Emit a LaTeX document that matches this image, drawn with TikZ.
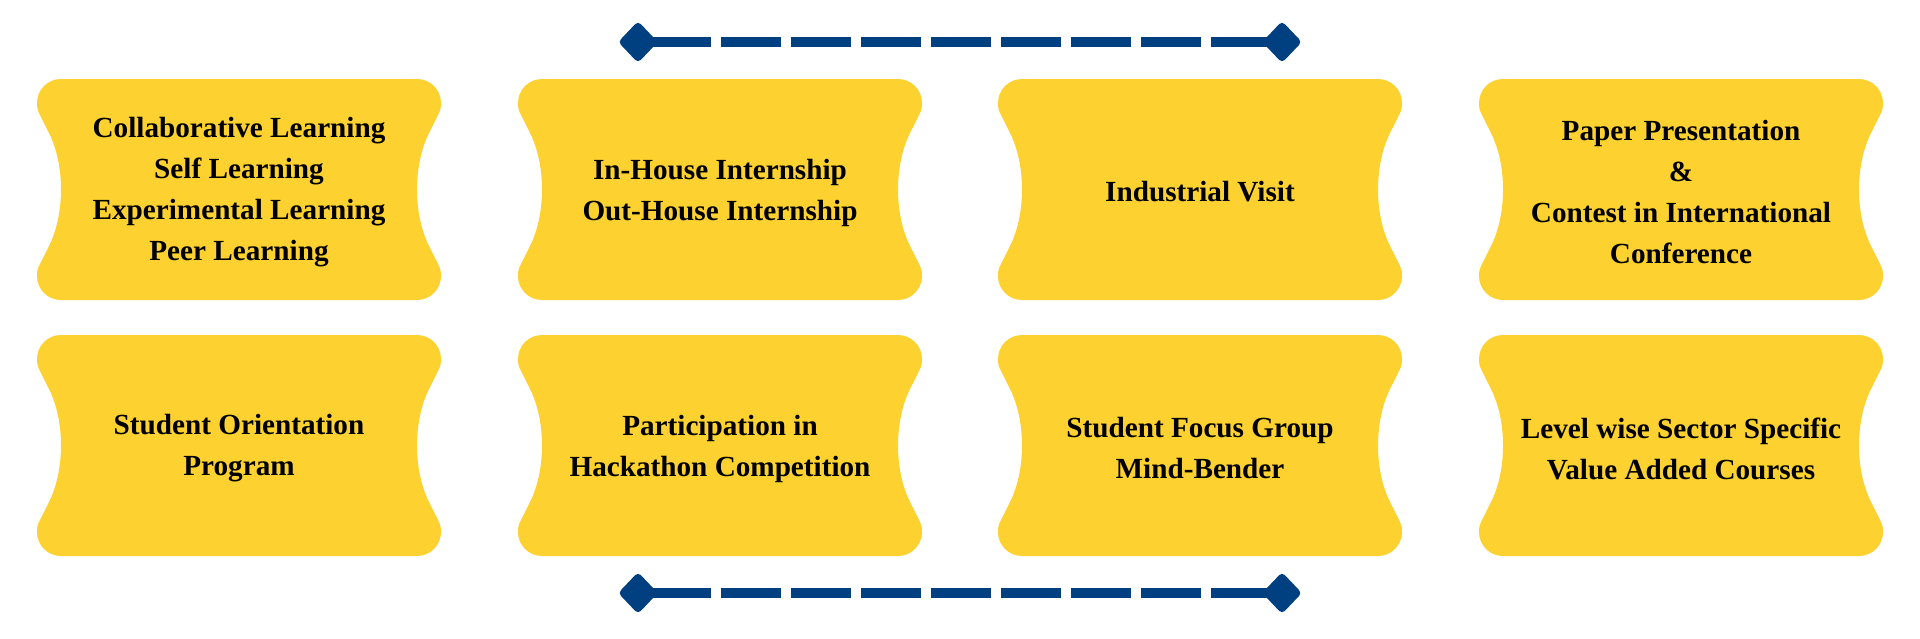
\documentclass[tikz,border=0pt]{standalone}
\usepackage{fontspec}
\setmainfont{Liberation Serif}
\usetikzlibrary{shapes.geometric}
\definecolor{cardyellow}{RGB}{253,209,48}
\definecolor{linkblue}{RGB}{0,64,128}
\tikzset{
  cardfill/.style={fill=cardyellow},
  cardtext/.style={align=center,font=\bfseries\fontsize{14.6}{20.5}\selectfont,text=black,inner sep=0pt},
  endmark/.style={diamond,fill=linkblue,minimum width=20pt,minimum height=21pt,inner sep=0pt,rounded corners=2pt},
  linkline/.style={draw=linkblue,line width=4.65pt,dash pattern=on 30pt off 5pt,dash phase=28.35pt}
}
\newcommand{\cardshape}[2]{%
  \fill[cardfill,shift={(#1,#2)}]
    (24,0) -- (380,0) .. controls (393.3,0) and (404,10.7) .. (404,24)
    .. controls (404,30) and (403,32) .. (401,36)
    -- (392,54) .. controls (376,86) and (376,135) .. (392,167) -- (401,185)
    .. controls (403,189) and (404,191) .. (404,197)
    .. controls (404,210.3) and (393.3,221) .. (380,221) -- (24,221)
    .. controls (10.7,221) and (0,210.3) .. (0,197)
    .. controls (0,191) and (1,189) .. (3,185) -- (12,167)
    .. controls (28,135) and (28,86) .. (12,54) -- (3,36)
    .. controls (1,32) and (0,30) .. (0,24)
    .. controls (0,10.7) and (10.7,0) .. (24,0) -- cycle;}
\begin{document}
\begin{tikzpicture}[x=0.5pt,y=-0.5pt]
\useasboundingbox (0,0) rectangle (1920,638);
% cards
\cardshape{37}{79}
\cardshape{518}{79}
\cardshape{998}{79}
\cardshape{1479}{79}
\cardshape{37}{335}
\cardshape{518}{335}
\cardshape{998}{335}
\cardshape{1479}{335}
\node[cardtext] (c1) at (239,192.5) {Collaborative Learning\\Self Learning\\Experimental Learning\\Peer Learning};
\node[cardtext] (c2) at (720,192.5) {In-House Internship\\Out-House Internship};
\node[cardtext] (c3) at (1200,192) {Industrial Visit};
\node[cardtext] (c4) at (1681,192.5) {Paper Presentation\\\&\\Contest in International\\Conference};
\node[cardtext] (c5) at (239,448.5) {Student Orientation\\Program};
\node[cardtext] (c6) at (720,448.5) {Participation in\\Hackathon Competition};
\node[cardtext] (c7) at (1200,448.5) {Student Focus Group\\Mind-Bender};
\node[cardtext] (c8) at (1681,448.5) {Level wise Sector Specific\\Value Added Courses};
% connectors
\node[endmark] (ta) at (638,42) {};
\node[endmark] (tb) at (1282,42) {};
\node[endmark] (ba) at (638,593) {};
\node[endmark] (bb) at (1282,593) {};
\draw[linkline] (ta.center) -- (tb.center);
\draw[linkline] (ba.center) -- (bb.center);
\end{tikzpicture}
\end{document}
